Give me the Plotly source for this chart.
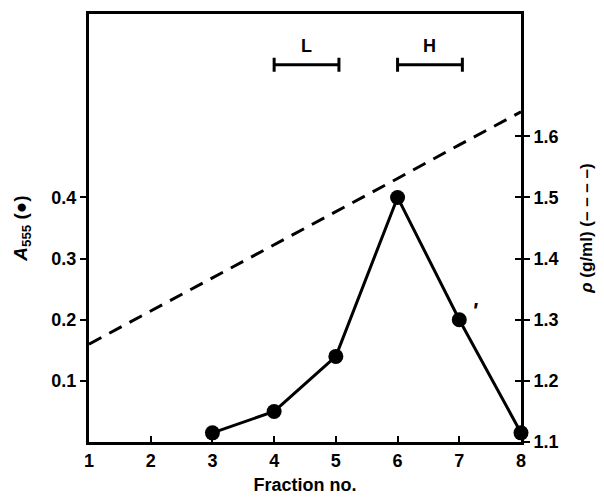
import plotly.graph_objects as go

fractions = [3, 4, 5, 6, 7, 8]
a555 = [0.015, 0.05, 0.14, 0.40, 0.20, 0.015]

density_fractions = [1, 2, 3, 4, 5, 6, 7, 8]
density = [1.26, 1.314, 1.369, 1.423, 1.477, 1.531, 1.586, 1.64]

x_ticks = [1, 2, 3, 4, 5, 6, 7, 8]
left_ticks = [0.1, 0.2, 0.3, 0.4]
right_ticks = [1.1, 1.2, 1.3, 1.4, 1.5, 1.6]

bands = [("L", 4, 5.05), ("H", 6, 7.05)]
band_y = 0.617

FONT = "Liberation Sans, Arial, sans-serif"

fig = go.Figure()
fig.add_trace(go.Scatter(
    x=density_fractions, y=density, mode="lines", yaxis="y2",
    line=dict(color="black", width=3, dash="14px,9px"), showlegend=False))
fig.add_trace(go.Scatter(
    x=fractions, y=a555, mode="lines+markers",
    line=dict(color="black", width=3),
    marker=dict(color="black", size=15), showlegend=False, cliponaxis=False))

# invisible trace for third (tick-only) axis
fig.add_trace(go.Scatter(x=[1], y=[1.1], yaxis="y3", mode="markers",
                         marker=dict(opacity=0), showlegend=False, hoverinfo="skip"))

for label, x0, x1 in bands:
    fig.add_trace(go.Scatter(
        x=[x0, x1], y=[band_y, band_y], mode="lines+markers",
        line=dict(color="black", width=3),
        marker=dict(symbol="line-ns", size=10, line=dict(width=3, color="black")),
        showlegend=False))
    fig.add_annotation(x=(x0 + x1) / 2, y=band_y, text=label, showarrow=False,
                       yshift=19, font=dict(size=18, family=FONT, color="black", weight="bold"))

fig.add_annotation(x=7.25, y=0.215, text="<i>'</i>", showarrow=False,
                   font=dict(size=22, family=FONT, color="black", weight="bold"))

fig.update_layout(
    width=596, height=490,
    margin=dict(l=81, r=83, t=3, b=56),
    plot_bgcolor="white", paper_bgcolor="white",
    font=dict(family=FONT, size=18, color="black", weight="bold"),
    xaxis=dict(range=[1, 8], tickvals=x_ticks, ticks="inside", ticklen=6, tickwidth=2,
               tickcolor="black", showline=True, linewidth=3, linecolor="black", mirror=True,
               showgrid=False, zeroline=False,
               title=dict(text="Fraction no.", standoff=9,
                          font=dict(size=18, family=FONT, weight="bold"))),
    yaxis=dict(range=[0, 0.7], tickvals=left_ticks, ticktext=["0.1", "0.2", "0.3", "0.4"],
               ticks="outside", ticklen=6, tickwidth=2, tickcolor="black",
               showline=True, linewidth=3, linecolor="black", showgrid=False, zeroline=False,
               title=dict(text="<i>A</i><sub>555</sub> (●)", standoff=19,
                          font=dict(size=19, family=FONT, weight="bold"))),
    yaxis2=dict(range=[1.1, 1.8], overlaying="y", side="right", tickvals=right_ticks,
                ticktext=["1.1", "1.2", "1.3", "1.4", "1.5", "1.6"],
                ticks="outside", ticklen=6, tickwidth=2, tickcolor="black",
                showline=True, linewidth=3, linecolor="black", showgrid=False, zeroline=False,
                title=dict(text="<i>ρ</i> (g/ml) (– – – –)", standoff=23,
                           font=dict(size=17, family=FONT, weight="bold"))),
    yaxis3=dict(range=[1.1, 1.8], overlaying="y", side="right", tickvals=right_ticks,
                showticklabels=False, ticks="inside", ticklen=6, tickwidth=2, tickcolor="black",
                showline=False, showgrid=False, zeroline=False),
)

fig.write_html("out.html")
